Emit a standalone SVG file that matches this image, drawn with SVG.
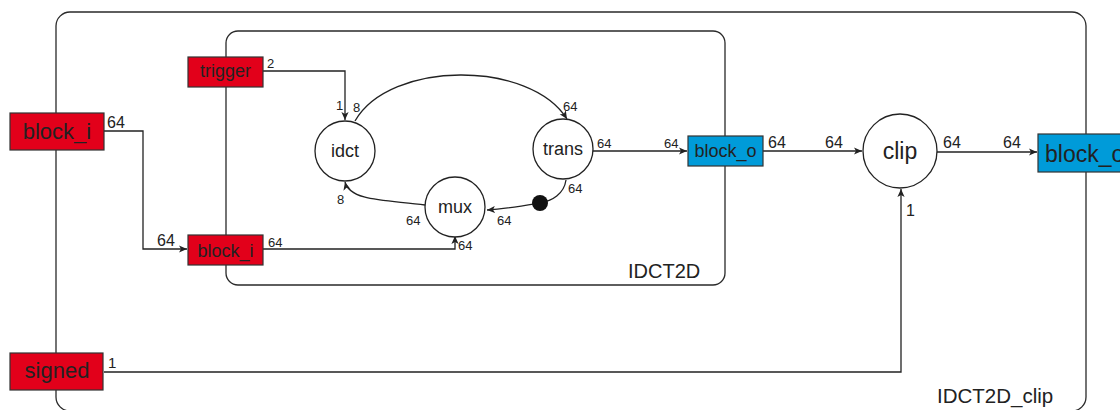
<svg xmlns="http://www.w3.org/2000/svg" width="1120" height="410" viewBox="0 0 1120 410">
<defs>
<style>
.frame{fill:none;stroke:#2a2a2a;stroke-width:1.3}
.wire{fill:none;stroke:#222;stroke-width:1.3}
.red{fill:#e2001a;stroke:#333;stroke-width:1.2}
.blue{fill:#009bd9;stroke:#333;stroke-width:1.2}
.node{fill:#fff;stroke:#222;stroke-width:1.3}
text{font-family:"Liberation Sans",Arial,sans-serif;fill:#222}
.s{font-size:13px}
.m{font-size:16px}
.c{text-anchor:middle}
</style>
<marker id="arr" viewBox="0 0 10 10" refX="10" refY="5" markerWidth="8" markerHeight="8" markerUnits="userSpaceOnUse" orient="auto">
<path d="M0,0.5 L10,5 L0,9.5 L2.5,5 Z" fill="#222"/>
</marker>
</defs>
<g id="IDCT2D_clip">
<rect class="frame" x="56" y="12" width="1030" height="399" rx="14"/>
<text x="937" y="403" style="font-size:20.5px">IDCT2D_clip</text>
</g>
<g id="IDCT2D">
<rect class="frame" x="226" y="31" width="499" height="254" rx="12"/>
<text x="628" y="278" style="font-size:20px">IDCT2D</text>
</g>
<g id="connectors">
<path class="wire" d="M104,131 H143 V249 H187" marker-end="url(#arr)"/>
<path class="wire" d="M263,71 H345 V120" marker-end="url(#arr)"/>
<path class="wire" d="M355,121 C390,60 530,60 567,119" marker-end="url(#arr)"/>
<path class="wire" d="M593,151 H687" marker-end="url(#arr)"/>
<path class="wire" d="M566,180 C564,194 552,201 540,203 C522,206 505,209 487,210" marker-end="url(#arr)"/>
<path class="wire" d="M425,205 C390,200 350,202 345,182" marker-end="url(#arr)"/>
<path class="wire" d="M263,249 H455 V236" marker-end="url(#arr)"/>
<path class="wire" d="M763,151 H862" marker-end="url(#arr)"/>
<path class="wire" d="M937,152 H1037" marker-end="url(#arr)"/>
<path class="wire" d="M104,372 H901 V189" marker-end="url(#arr)"/>
<circle cx="540" cy="203" r="8" fill="#111"/>
<text class="m" x="107" y="128">64</text>
<text class="m" x="157" y="246">64</text>
<text class="s" x="267" y="68">2</text>
<text class="s" x="336" y="110">1</text>
<text class="s" x="353" y="112">8</text>
<text class="s" x="337" y="204">8</text>
<text class="s" x="268" y="247">64</text>
<text class="s" x="563" y="111">64</text>
<text class="s" x="597" y="148">64</text>
<text class="s" x="664" y="148">64</text>
<text class="s" x="568" y="193">64</text>
<text class="s" x="497" y="225">64</text>
<text class="s" x="406" y="225">64</text>
<text class="s" x="458" y="250">64</text>
<text class="m" x="768" y="148">64</text>
<text class="m" x="825" y="148">64</text>
<text class="m" x="943" y="148">64</text>
<text class="m" x="1003" y="148">64</text>
<text class="m" x="906" y="216">1</text>
<text class="s" x="108" y="368" style="font-size:15px">1</text>
</g>
<g id="block_i_outer">
<rect class="red" x="10" y="113" width="94" height="37"/>
<text class="c" x="57" y="139" style="font-size:22px">block_i</text>
</g>
<g id="signed">
<rect class="red" x="10" y="353" width="93" height="37"/>
<text class="c" x="57" y="378" style="font-size:22px">signed</text>
</g>
<g id="trigger">
<rect class="red" x="188" y="57" width="75" height="30"/>
<text class="c" x="225.5" y="77" style="font-size:18px">trigger</text>
</g>
<g id="block_i_inner">
<rect class="red" x="188" y="235" width="75" height="30"/>
<text class="c" x="225.5" y="257" style="font-size:18px">block_i</text>
</g>
<g id="idct">
<circle class="node" cx="345" cy="151" r="30"/>
<text class="c" x="345" y="157" style="font-size:18px">idct</text>
</g>
<g id="trans">
<circle class="node" cx="563" cy="149" r="30"/>
<text class="c" x="563" y="155" style="font-size:18px">trans</text>
</g>
<g id="mux">
<circle class="node" cx="455" cy="207" r="30"/>
<text class="c" x="455" y="213" style="font-size:18px">mux</text>
</g>
<g id="block_o_inner">
<rect class="blue" x="688" y="136" width="75" height="30"/>
<text class="c" x="725.5" y="157" style="font-size:18px">block_o</text>
</g>
<g id="clip">
<circle class="node" cx="900" cy="151" r="37"/>
<text class="c" x="900" y="159" style="font-size:23px">clip</text>
</g>
<g id="block_o_outer">
<rect class="blue" x="1038" y="134" width="94" height="38"/>
<text x="1045" y="162" style="font-size:23px">block_o</text>
</g>
</svg>
